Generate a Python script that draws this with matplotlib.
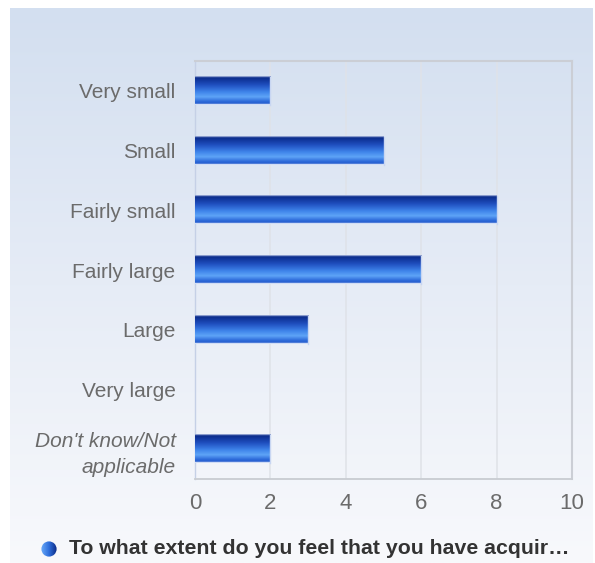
import numpy as np
import matplotlib
matplotlib.use("Agg")
import matplotlib.pyplot as plt
from matplotlib.colors import LinearSegmentedColormap
from matplotlib.patches import Circle

plt.rcParams['font.family'] = ['Liberation Sans', 'DejaVu Sans']

# data
categories = ["Very small", "Small", "Fairly small", "Fairly large",
              "Large", "Very large", "Don't know/Not\napplicable"]
counts = [2, 5, 8, 6, 3, 0, 2]
xticks = [0, 2, 4, 6, 8, 10]
legend_label = "To what extent do you feel that you have acquir\u2026"

W, H = 595, 563
fig = plt.figure(figsize=(W / 100, H / 100), dpi=100)
fig.patch.set_facecolor("white")

# panel background with vertical gradient
bg = fig.add_axes([10 / W, 0, 583 / W, 1 - 8 / H], zorder=-5)
bg_cmap = LinearSegmentedColormap.from_list("bg", ["#d3dff0", "#e6ecf6", "#f8f9fc"])
bg.imshow(np.linspace(0, 1, 256).reshape(-1, 1), aspect="auto", cmap=bg_cmap,
          extent=(0, 1, 0, 1), origin="upper")
bg.axis("off")

# bar gradient (top -> bottom)
bar_cmap = LinearSegmentedColormap.from_list("bar", [
    (0.0, "#aebce0"), (0.05, "#0b2c8c"), (0.3, "#1f4fbf"), (0.55, "#3f84ea"),
    (0.72, "#5ea4f7"), (0.9, "#2864d6"), (0.95, "#2a62d0"), (1.0, "#ffffff")])

ax = fig.add_axes([195 / W, 1 - 479 / H, (572 - 195) / W, (479 - 61) / H])
ax.patch.set_alpha(0)
y = np.arange(len(categories))
h = 0.47
grad = np.linspace(0, 1, 64).reshape(-1, 1)
for yi, v in zip(y, counts):
    if v > 0:
        ax.imshow(grad, aspect="auto", cmap=bar_cmap, origin="upper",
                  extent=(0, v, yi + h / 2, yi - h / 2), zorder=3)
        ax.plot([v, v], [yi - h / 2, yi + h / 2], color="#c8d6f2", lw=1, zorder=4)

ax.set_xlim(0, 10)
ax.set_ylim(len(categories) - 0.5, -0.5)
ax.set_xticks(xticks)
ax.set_xticklabels([str(t) for t in xticks])
ax.set_yticks(y)
ax.set_yticklabels(categories)
ax.tick_params(length=0, labelsize=15, labelcolor="#6b6b6b")
ax.tick_params(axis="x", labelsize=16, pad=10)
ax.tick_params(axis="y", pad=14)
ax.yaxis.get_ticklabels()[-1].set_fontstyle("italic")
for t in ax.yaxis.get_ticklabels():
    t.set_linespacing(1.45)

ax.grid(axis="x", color="#dfe2e8", lw=1.1, zorder=0)
ax.set_axisbelow(True)
for s in ["top", "right"]:
    ax.spines[s].set_color("#cbced5")
    ax.spines[s].set_linewidth(1.5)
ax.spines["bottom"].set_color("#c9ccd2")
ax.spines["bottom"].set_linewidth(1.3)
ax.spines["left"].set_color("#c5d0e6")
ax.spines["left"].set_linewidth(1.0)

# legend
cx, cy, r = 49, 549, 7.6
lax = fig.add_axes([(cx - r - 1) / W, 1 - (cy + r + 1) / H, (2 * r + 2) / W, (2 * r + 2) / H])
lax.set_xlim(cx - r - 1, cx + r + 1)
lax.set_ylim(cy + r + 1, cy - r - 1)
lax.axis("off")
leg_cmap = LinearSegmentedColormap.from_list("leg", ["#6aaaf8", "#2f6fdc", "#0b2a86"])
im = lax.imshow(np.linspace(0, 1, 64).reshape(1, -1), aspect="auto", cmap=leg_cmap,
                extent=(cx - r, cx + r, cy + r, cy - r))
circ = Circle((cx, cy), r, transform=lax.transData, facecolor="none", edgecolor="none")
lax.add_patch(circ)
im.set_clip_path(circ)

fig.text(69 / W, 1 - 549 / H, legend_label, fontsize=15.3, fontweight="bold",
         color="#333333", va="center", ha="left")

fig.savefig("out.png", dpi=100)
